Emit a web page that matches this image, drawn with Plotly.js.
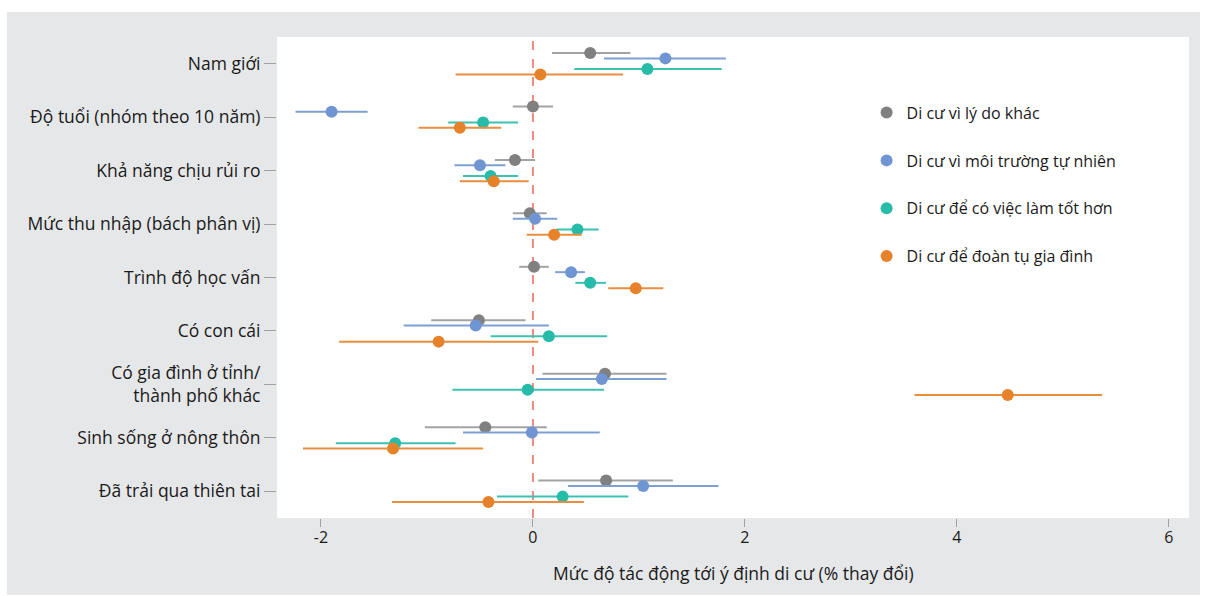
<!DOCTYPE html>
<html>
<head>
<meta charset="utf-8">
<script src="https://cdn.plot.ly/plotly-3.0.1.min.js"></script>
<style>
  html, body { margin: 0; padding: 0; background: #ffffff; }
  #chart { position: absolute; left: 7px; top: 12px; width: 1193px; height: 583px; }
</style>
</head>
<body>
<div id="chart"></div>
<script>
// Categories (top to bottom)
const categories = [
  "Nam giới",
  "Độ tuổi (nhóm theo 10 năm)",
  "Khả năng chịu rủi ro",
  "Mức thu nhập (bách phân vị)",
  "Trình độ học vấn",
  "Có con cái",
  "Có gia đình ở tỉnh/<br>thành phố khác",
  "Sinh sống ở nông thôn",
  "Đã trải qua thiên tai"
];

const seriesNames = [
  "Di cư vì lý do khác",
  "Di cư vì môi trường tự nhiên",
  "Di cư để có việc làm tốt hơn",
  "Di cư để đoàn tụ gia đình"
];

// Point estimates
const otherEst   = [0.54, 0.00, -0.17, -0.03, 0.01, -0.51, 0.68, -0.45, 0.69];
const natureEst  = [1.25, -1.90, -0.50, 0.02, 0.36, -0.54, 0.65, -0.01, 1.04];
const jobEst     = [1.08, -0.47, -0.40, 0.42, 0.54, 0.15, -0.05, -1.30, 0.28];
const familyEst  = [0.07, -0.69, -0.37, 0.20, 0.97, -0.89, 4.48, -1.32, -0.42];

// Lower bounds of the intervals
const otherLow   = [0.18, -0.19, -0.36, -0.19, -0.13, -0.96, 0.09, -1.02, 0.05];
const natureLow  = [0.67, -2.24, -0.74, -0.19, 0.21, -1.22, 0.03, -0.66, 0.33];
const jobLow     = [0.39, -0.80, -0.66, 0.22, 0.40, -0.40, -0.76, -1.86, -0.34];
const familyLow  = [-0.73, -1.08, -0.69, -0.06, 0.71, -1.83, 3.60, -2.17, -1.33];

// Upper bounds of the intervals
const otherHigh  = [0.92, 0.19, 0.02, 0.13, 0.15, -0.07, 1.26, 0.13, 1.32];
const natureHigh = [1.82, -1.56, -0.26, 0.23, 0.49, 0.15, 1.26, 0.63, 1.75];
const jobHigh    = [1.78, -0.14, -0.14, 0.62, 0.69, 0.70, 0.67, -0.73, 0.90];
const familyHigh = [0.85, -0.30, -0.04, 0.46, 1.23, 0.05, 5.37, -0.47, 0.48];

const xTickVals = [-2, 0, 2, 4, 6];
const xTitle = "Mức độ tác động tới ý định di cư (% thay đổi)";

const markerColors = ["#808080", "#6f95d2", "#27bba9", "#e5822a"];
const barColors    = ["#a3a3a3", "#7c9fd6", "#3cc2b1", "#e98e3e"];
const offsets = [0.2, 0.1, -0.1, -0.2];

const ests  = [otherEst, natureEst, jobEst, familyEst];
const lows  = [otherLow, natureLow, jobLow, familyLow];
const highs = [otherHigh, natureHigh, jobHigh, familyHigh];

const n = categories.length;
const basePos = categories.map((c, i) => n - i);

const traces = seriesNames.map((name, s) => ({
  type: "scatter",
  mode: "markers",
  name: name,
  legendgroup: "g" + s,
  x: ests[s],
  y: basePos.map(p => p + offsets[s]),
  marker: { color: markerColors[s], size: 12 },
  error_x: {
    type: "data",
    symmetric: false,
    array: ests[s].map((v, i) => highs[s][i] - v),
    arrayminus: ests[s].map((v, i) => v - lows[s][i]),
    color: barColors[s],
    thickness: 2,
    width: 0
  },
  hoverinfo: "x+name"
}));

const fontFamily = "'Open Sans', 'Noto Sans', sans-serif";

const layout = {
  width: 1193,
  height: 583,
  paper_bgcolor: "#e6e7e8",
  plot_bgcolor: "#ffffff",
  margin: { l: 270, r: 11, t: 25, b: 77 },
  font: { family: fontFamily, size: 16, color: "#1a1a1a" },
  showlegend: true,
  legend: {
    x: 0.6465, y: 0.878, xanchor: "left", yanchor: "top",
    bgcolor: "rgba(0,0,0,0)",
    font: { family: fontFamily, size: 16, color: "#1a1a1a" },
    tracegroupgap: 24
  },
  xaxis: {
    range: [-2.415, 6.19],
    tickvals: xTickVals,
    ticktext: xTickVals.map(String),
    ticks: "outside",
    ticklen: 8,
    tickcolor: "#a0a0a0",
    ticklabelstandoff: -3,
    showgrid: false,
    zeroline: false,
    showline: false,
    tickfont: { family: fontFamily, size: 16, color: "#1a1a1a" }
  },
  yaxis: {
    range: [0.5, 9.5],
    tickvals: basePos,
    ticktext: categories,
    ticks: "outside",
    ticklen: 12,
    tickcolor: "#a0a0a0",
    showgrid: false,
    zeroline: false,
    showline: false,
    tickfont: { family: fontFamily, size: 17.5, color: "#1a1a1a" }
  },
  shapes: [{
    type: "line", xref: "x", yref: "paper",
    x0: 0, x1: 0, y0: 0, y1: 1,
    line: { color: "#f08a80", width: 2, dash: "dash" },
    layer: "below"
  }],
  annotations: [{
    text: xTitle,
    xref: "paper", yref: "paper",
    x: 0.5, y: -0.114, xanchor: "center", yanchor: "middle",
    showarrow: false,
    font: { family: fontFamily, size: 17.5, color: "#1a1a1a" }
  }]
};

Plotly.newPlot("chart", traces, layout, { displayModeBar: false, staticPlot: true });
</script>
</body>
</html>
